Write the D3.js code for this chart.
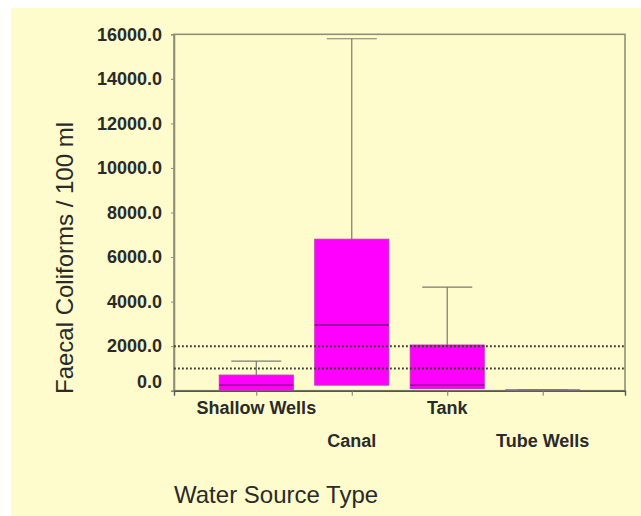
<!DOCTYPE html>
<html>
<head>
<meta charset="utf-8">
<script src="https://cdn.jsdelivr.net/npm/d3@7"></script>
<style>
  html, body { margin: 0; padding: 0; background: #ffffff; }
  svg { display: block; }
  text { font-family: "Liberation Sans", Arial, sans-serif; }
</style>
</head>
<body>
<svg id="chart" width="641" height="516"></svg>
<script>
// ---- data ----
const categories = ["Shallow Wells", "Canal", "Tank", "Tube Wells"];
const lowerQuartile = [30, 250, 100, 0];
const medianValue = [250, 2950, 250, 20];
const upperQuartile = [700, 6800, 2050, 40];
const upperWhisker = [1330, 15800, 4650, 40];
const referenceLines = [1000, 2000];
const yTickValues = [0, 2000, 4000, 6000, 8000, 10000, 12000, 14000, 16000];
const labelRow = [0, 1, 0, 1]; // staggered category labels

(function () {
const svg = d3.select("#chart");
const W = 641, H = 516;

// background panel
svg.append("rect").attr("x", 11).attr("y", 8).attr("width", W - 11).attr("height", H - 8)
  .attr("fill", "#fefccc");

const pLeft = 174, pRight = 625, pTop = 34.3, pBottom = 390.7;

const x = d3.scalePoint().domain(categories).range([pLeft, pRight]).padding(0.862);
const y = d3.scaleLinear().domain([0, 16000]).range([pBottom, pTop]);

// frame
svg.append("rect").attr("x", pLeft).attr("y", pTop).attr("width", pRight - pLeft).attr("height", pBottom - pTop)
  .attr("fill", "none").attr("stroke", "#8f8f78").attr("stroke-width", 1.6);

// y axis
const yAxis = d3.axisLeft(y).tickValues(yTickValues).tickSize(3).tickPadding(9)
  .tickFormat(d3.format(".1f"));
const gy = svg.append("g").attr("transform", `translate(${pLeft},0)`).call(yAxis);
gy.select(".domain").attr("stroke", "#8f8f78").attr("stroke-width", 1.6);
gy.selectAll(".tick line").attr("stroke", "#8f8f78");
gy.selectAll(".tick text")
  .attr("fill", "#2a2a2a").attr("font-size", 18).attr("font-weight", "bold")
  .attr("dy", d => d === 0 ? "-0.18em" : "0.32em");

// bottom axis
const xAxis = d3.axisBottom(x).tickSize(5).tickFormat("");
const gx = svg.append("g").attr("transform", `translate(0,${pBottom})`).call(xAxis);
gx.select(".domain").attr("stroke", "#555").attr("stroke-width", 1.4);
gx.selectAll(".tick line").attr("stroke", "#777");

// category labels
svg.append("g").selectAll("text").data(categories).join("text")
  .attr("x", d => x(d))
  .attr("y", (d, i) => labelRow[i] ? 447 : 414)
  .attr("text-anchor", "middle")
  .attr("font-size", 18).attr("font-weight", "bold").attr("fill", "#2a2a2a")
  .text(d => d);

// boxes
const boxW = 74, capW = 50;
const boxes = svg.append("g");
categories.forEach((c, i) => {
  const cx = x(c);
  // whisker
  boxes.append("line").attr("x1", cx).attr("x2", cx)
    .attr("y1", y(upperQuartile[i])).attr("y2", y(upperWhisker[i]))
    .attr("stroke", "#7a7a70").attr("stroke-width", 1.2);
  boxes.append("line").attr("x1", cx - capW / 2).attr("x2", cx + capW / 2)
    .attr("y1", y(upperWhisker[i])).attr("y2", y(upperWhisker[i]))
    .attr("stroke", "#7a7a70").attr("stroke-width", 1.2);
  // box
  boxes.append("rect").attr("x", cx - boxW / 2).attr("width", boxW)
    .attr("y", y(upperQuartile[i])).attr("height", y(lowerQuartile[i]) - y(upperQuartile[i]))
    .attr("fill", "#ff00ff").attr("stroke", i === 3 ? "#7a6f7a" : "#c030c0").attr("stroke-width", 1);
  // median
  if (i !== 3) {
    boxes.append("line").attr("x1", cx - boxW / 2).attr("x2", cx + boxW / 2)
      .attr("y1", y(medianValue[i])).attr("y2", y(medianValue[i]))
      .attr("stroke", "#7a0a7a").attr("stroke-width", 1.4);
  }
});

// reference dotted lines
svg.append("g").selectAll("line").data(referenceLines).join("line")
  .attr("x1", pLeft).attr("x2", pRight)
  .attr("y1", d => y(d)).attr("y2", d => y(d))
  .attr("stroke", "#3a3a30").attr("stroke-width", 2).attr("stroke-dasharray", "1.8,2.2");

// axis titles
svg.append("text")
  .attr("transform", `translate(73,258) rotate(-90)`)
  .attr("text-anchor", "middle")
  .attr("font-size", 24).attr("fill", "#2a2a2a")
  .attr("textLength", 272).attr("lengthAdjust", "spacingAndGlyphs")
  .text("Faecal Coliforms / 100 ml");

svg.append("text")
  .attr("x", 174).attr("y", 503)
  .attr("font-size", 24).attr("fill", "#2a2a2a")
  .text("Water Source Type");
})();
</script>
</body>
</html>
